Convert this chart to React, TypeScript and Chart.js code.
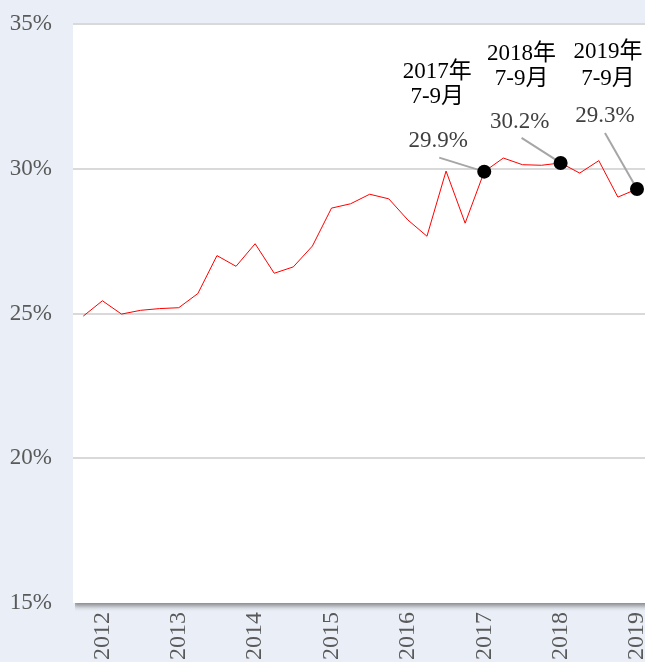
import { useEffect, useRef } from 'react';
import { Chart, registerables } from 'chart.js';

Chart.register(...registerables);

// Quarterly share (%), from 2012 Apr-Jun (index 0) to 2019 Jul-Sep (index 29)
const values = [
  24.91, 25.44, 24.98, 25.11, 25.17, 25.2, 25.69, 27.0, 26.63, 27.41,
  26.39, 26.61, 27.33, 28.64, 28.79, 29.12, 28.96, 28.23, 27.67, 29.92,
  28.12, 29.9, 30.37, 30.14, 30.12, 30.2, 29.85, 30.28, 29.02, 29.3,
];

const yearLabels = ['2012', '2013', '2014', '2015', '2016', '2017', '2018', '2019'];
const yearTickIdx = [1, 5, 9, 13, 17, 21, 25, 29];

const highlightIdx = [21, 25, 29];
const highlightDate = [['2017年', '7-9月'], ['2018年', '7-9月'], ['2019年', '7-9月']];

// label placement offsets relative to the highlighted point (styling only)
const labelOffsets = [
  { vx: -46, vy: -31, lx: -45, ly: -14, dx: -47, d1: -100, d2: -75 },
  { vx: -41, vy: -41, lx: -39, ly: -25, dx: -39, d1: -109, d2: -84 },
  { vx: -32, vy: -73, lx: -32, ly: -56, dx: -29, d1: -137, d2: -110 },
];

const BG = '#eaeff7';
const FONT_FAMILY = '"Liberation Serif", "Times New Roman", "Noto Sans CJK JP", serif';
const GRAY = '#595959';
const LABEL_GRAY = '#404040';

export default function App() {
  const ref = useRef<HTMLCanvasElement | null>(null);

  useEffect(() => {
    if (!ref.current) return;

    const bgPlugin = {
      id: 'bgPlugin',
      beforeDraw(chart: any) {
        const { ctx, chartArea: a, width, height } = chart;
        ctx.save();
        ctx.fillStyle = BG;
        ctx.fillRect(0, 0, width, height);
        // shadow only below the plot area
        ctx.save();
        ctx.beginPath();
        ctx.rect(a.left + 2, a.bottom, width, 20);
        ctx.clip();
        ctx.shadowColor = 'rgba(0,0,0,0.45)';
        ctx.shadowBlur = 5;
        ctx.shadowOffsetY = 3;
        ctx.fillStyle = '#ffffff';
        ctx.fillRect(a.left, a.top, a.right - a.left + 20, a.bottom - a.top);
        ctx.restore();
        ctx.fillStyle = '#ffffff';
        ctx.fillRect(a.left, a.top, a.right - a.left + 20, a.bottom - a.top);
        ctx.restore();
      },
    };

    const annPlugin = {
      id: 'annPlugin',
      beforeDatasetsDraw(chart: any) {
        const { ctx } = chart;
        const meta = chart.getDatasetMeta(0);
        ctx.save();
        ctx.strokeStyle = '#a6a6a6';
        ctx.lineWidth = 2;
        meta.data.forEach((pt: any, k: number) => {
          const o = labelOffsets[k];
          ctx.beginPath();
          ctx.moveTo(pt.x + o.lx, pt.y + o.ly);
          ctx.lineTo(pt.x, pt.y);
          ctx.stroke();
        });
        ctx.restore();
      },
      afterDatasetsDraw(chart: any) {
        const { ctx } = chart;
        const meta = chart.getDatasetMeta(0);
        ctx.save();
        ctx.textAlign = 'center';
        ctx.textBaseline = 'middle';
        meta.data.forEach((pt: any, k: number) => {
          const o = labelOffsets[k];
          const v = values[highlightIdx[k]];
          ctx.font = `23px ${FONT_FAMILY}`;
          ctx.fillStyle = LABEL_GRAY;
          ctx.fillText(v.toFixed(1) + '%', pt.x + o.vx, pt.y + o.vy);
          ctx.fillStyle = '#000000';
          ctx.fillText(highlightDate[k][0], pt.x + o.dx, pt.y + o.d1);
          ctx.fillText(highlightDate[k][1], pt.x + o.dx, pt.y + o.d2);
        });
        ctx.restore();
      },
    };

    const chart = new Chart(ref.current, {
      type: 'line',
      data: {
        datasets: [
          {
            data: highlightIdx.map((i) => ({ x: i, y: values[i] })),
            showLine: false,
            pointRadius: 7,
            pointBackgroundColor: '#000000',
            pointBorderColor: '#000000',
            pointBorderWidth: 0,
          },
          {
            data: values.map((v, i) => ({ x: i, y: v })),
            borderColor: '#ff0000',
            borderWidth: 1,
            pointRadius: 0,
            tension: 0,
            fill: false,
          },
        ],
      },
      options: {
        animation: false,
        responsive: false,
        layout: { autoPadding: false, padding: { top: 24, left: 0, right: 0, bottom: 0 } },
        plugins: { legend: { display: false }, tooltip: { enabled: false } },
        scales: {
          x: {
            type: 'linear',
            min: -0.54,
            max: 29.42,
            afterBuildTicks: (s: any) => {
              s.ticks = yearTickIdx.map((v) => ({ value: v }));
            },
            afterFit: (s: any) => {
              s.height = 59;
              s.paddingLeft = 0;
              s.paddingRight = 0;
            },
            ticks: {
              autoSkip: false,
              minRotation: 90,
              maxRotation: 90,
              padding: 9,
              color: GRAY,
              font: { family: FONT_FAMILY, size: 24 },
              callback: (_v: any, i: number) => yearLabels[i] ?? '',
            },
            grid: { display: false, drawTicks: false },
            border: { display: false },
          },
          y: {
            min: 15,
            max: 35,
            afterFit: (s: any) => {
              s.width = 73;
              s.paddingTop = 0;
              s.paddingBottom = 0;
            },
            ticks: {
              stepSize: 5,
              padding: 21,
              color: GRAY,
              font: { family: FONT_FAMILY, size: 23 },
              callback: (v: any) => v + '%',
            },
            grid: {
              drawTicks: false,
              lineWidth: 2,
              color: (c: any) => (c.tick && c.tick.value === 15 ? 'rgba(0,0,0,0)' : '#d9d9d9'),
            },
            border: { display: false },
          },
        },
      },
      plugins: [bgPlugin, annPlugin],
    } as any);

    return () => chart.destroy();
  }, []);

  return (
    <div style={{ position: 'fixed', left: 0, top: 0, width: 645, height: 662, overflow: 'hidden' }}>
      <canvas ref={ref} width={645} height={662} style={{ display: 'block' }} />
    </div>
  );
}
